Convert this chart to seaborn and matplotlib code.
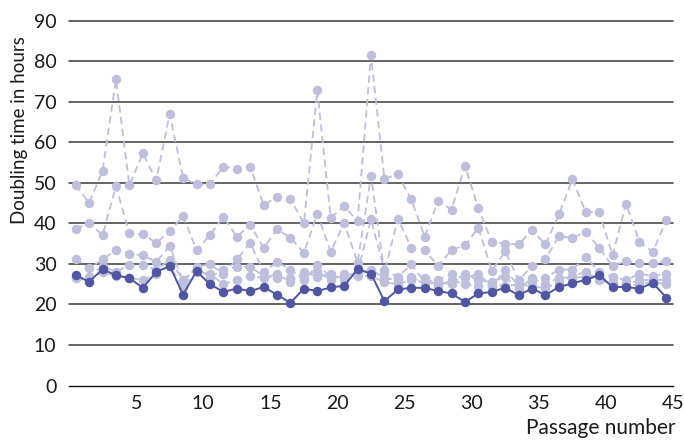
import matplotlib
matplotlib.use("Agg")
import matplotlib.pyplot as plt
import seaborn as sns
import numpy as np
import pandas as pd

passages = list(range(1, 46))

dark = [27.2, 25.6, 28.7, 27.2, 26.5, 24.1, 28.0, 29.5, 22.4, 28.2,
        25.0, 23.1, 23.9, 23.3, 24.3, 22.4, 20.4, 23.9, 23.3, 24.2,
        24.6, 28.7, 27.6, 20.8, 23.7, 24.1, 24.1, 23.3, 22.7, 20.6,
        22.7, 23.1, 24.1, 22.3, 23.9, 22.3, 24.3, 25.2, 26.1, 27.2,
        24.3, 24.3, 23.9, 25.3, 21.7]

light1 = [49.5, 45.0, 53.0, 75.5, 49.4, 57.3, 50.6, 67.0, 51.3, 49.6,
          49.6, 54.0, 53.5, 54.0, 44.5, 46.5, 46.0, 40.0, 72.8, 41.4,
          44.2, 40.6, 81.5, 51.0, 52.1, 45.9, 36.7, 45.5, 43.4, 54.2,
          43.7, 35.4, 35.0, 34.8, 38.3, 34.8, 42.2, 50.9, 42.8, 42.8,
          32.1, 44.9, 35.4, 33.0, 40.8]

light2 = [38.7, 40.0, 37.1, 49.2, 37.5, 37.3, 35.2, 38.0, 41.8, 33.4,
          37.1, 41.6, 36.7, 39.6, 34.0, 38.5, 36.5, 32.7, 42.4, 33.0,
          40.1, 30.3, 51.7, 27.8, 41.2, 34.0, 33.4, 29.5, 33.4, 34.6,
          38.9, 28.3, 33.1, 26.0, 29.4, 31.3, 36.8, 36.4, 37.9, 34.0,
          29.4, 30.8, 30.2, 30.2, 30.8]

light3 = [31.3, 28.9, 31.1, 33.5, 32.5, 32.1, 30.5, 34.4, 25.6, 29.3,
          29.9, 27.6, 31.1, 35.2, 28.0, 30.5, 28.6, 26.0, 29.7, 26.8,
          26.8, 28.0, 41.0, 28.5, 26.8, 29.9, 25.6, 26.1, 27.4, 26.4,
          27.6, 24.4, 28.6, 24.5, 25.6, 26.6, 28.6, 28.6, 31.7, 28.0,
          26.8, 26.0, 27.6, 27.0, 27.6]

light4 = [26.6, 26.8, 29.5, 28.0, 29.8, 29.7, 28.5, 31.0, 26.0, 29.0,
          26.8, 28.5, 29.3, 29.3, 27.0, 26.6, 26.6, 27.0, 28.3, 26.0,
          27.5, 27.5, 28.6, 26.5, 26.0, 26.8, 25.0, 25.5, 25.0, 27.5,
          26.0, 25.5, 26.8, 23.8, 26.5, 25.0, 26.6, 26.6, 26.8, 27.0,
          25.5, 25.0, 26.0, 26.0, 26.1]

light5 = [26.4, 26.0, 28.0, 27.0, 26.5, 26.0, 27.5, 29.5, 24.3, 28.0,
          27.5, 25.0, 26.0, 27.0, 26.5, 27.5, 25.5, 28.0, 26.8, 27.5,
          26.0, 27.0, 27.0, 25.5, 25.0, 26.0, 26.5, 24.5, 26.0, 25.0,
          24.5, 25.0, 24.5, 25.0, 24.5, 24.0, 25.5, 27.0, 28.0, 26.0,
          25.0, 24.5, 25.0, 25.5, 25.0]

y_ticks = [0, 10, 20, 30, 40, 50, 60, 70, 80, 90]
x_tick_labels = ["5", "10", "15", "20", "25", "30", "35", "40", "45"]

sns.set_style("white")
plt.rcParams["font.family"] = ["Lato", "DejaVu Sans"]

DARK = "#5057a0"
LIGHT = "#bdbfdc"
TXT = "#1a1a1a"

fig = plt.figure(figsize=(6.84, 4.4), dpi=100)
W, H = 684, 440
left, right, top, bottom = 69, 673, 20.7, 385.5
ax = fig.add_axes([left / W, 1 - bottom / H, (right - left) / W, (bottom - top) / H])

xpos = [p - 0.5 for p in passages]

for s in [light1, light2, light3, light4, light5]:
    df = pd.DataFrame({"x": xpos, "y": s})
    sns.lineplot(data=df, x="x", y="y", ax=ax, color=LIGHT, linewidth=1.3,
                 marker="o", markersize=6.8, markeredgewidth=0,
                 markerfacecolor=LIGHT, dashes=False, zorder=3)
    ax.lines[-1].set_linestyle((0, (4.0, 2.5)))

df = pd.DataFrame({"x": xpos, "y": dark})
sns.lineplot(data=df, x="x", y="y", ax=ax, color=DARK, linewidth=1.4,
             marker="o", markersize=6.8, markeredgewidth=0,
             markerfacecolor=DARK, zorder=4)

for yv in y_ticks[1:]:
    ax.axhline(yv, color="#3a3a3a", linewidth=1.1, zorder=1, clip_on=False)

ax.set_xlim(0, 45)
ax.set_ylim(0, 90)
for sp in ["top", "right", "left"]:
    ax.spines[sp].set_visible(False)
ax.spines["bottom"].set_color("#111111")
ax.spines["bottom"].set_linewidth(1.0)

ax.set_xticks([5, 10, 15, 20, 25, 30, 35, 40, 45])
ax.set_xticklabels(x_tick_labels)
ax.set_xticks(range(0, 46), minor=True)
ax.tick_params(axis="x", which="both", direction="out", length=7, width=0.9,
               color="#111111", labelsize=14, labelcolor=TXT, pad=0)
ax.set_yticks(y_ticks)
ax.set_yticklabels([str(v) for v in y_ticks])
ax.tick_params(axis="y", which="both", length=0, labelsize=14, labelcolor=TXT, pad=9)

ax.set_xlabel("")
ax.set_ylabel("")
fig.text(20 / W, 1 - 130 / H, "Doubling time in hours", rotation=90,
         ha="center", va="center", fontsize=13.5, color=TXT)
fig.text(675 / W, 1 - 428 / H, "Passage number", ha="right", va="center",
         fontsize=15, color=TXT)

fig.savefig("out.png", dpi=100)
